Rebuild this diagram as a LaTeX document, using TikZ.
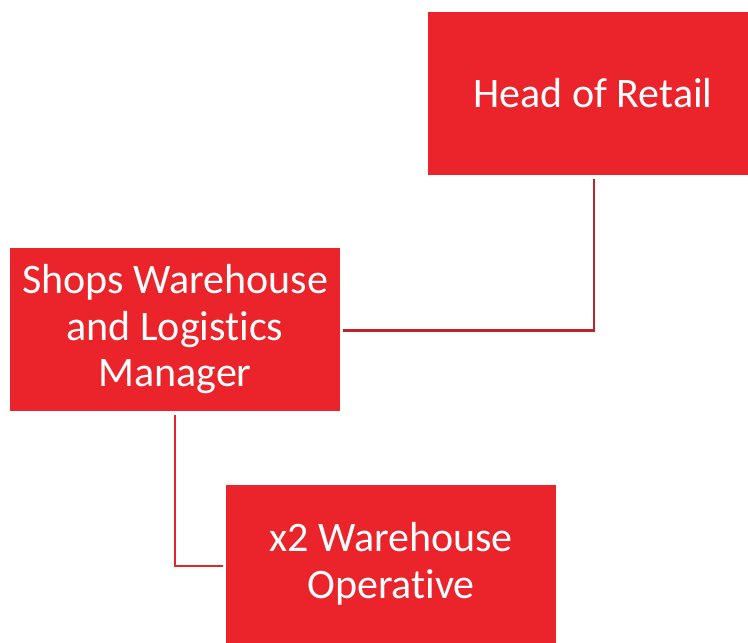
\documentclass[tikz,border=0pt]{standalone}
\usepackage{fontspec}
\setmainfont[Ligatures={NoCommon,NoContextual}]{Carlito}
\definecolor{boxred}{HTML}{EB232A}
\definecolor{lineA}{HTML}{BC242B}
\definecolor{lineB}{HTML}{E2242B}
\begin{document}
\begin{tikzpicture}[x=1pt,y=-1pt,
  rolebox/.style={fill=boxred,draw=none,text=white,align=center,inner sep=0pt,
    font=\fontsize{42}{46.5}\selectfont},
  link/.style={line width=2.6pt}]
\useasboundingbox (0,0) rectangle (748,643);
\node[rolebox,minimum width=320pt,minimum height=163pt] (head) at (588,93.5) {\hspace*{10pt}Head of Retail};
\node[rolebox,minimum width=330pt,minimum height=163pt] (mgr) at (175,329.5) {Shops Warehouse\\and Logistics\\Manager};
\node[rolebox,minimum width=330pt,minimum height=158pt] (op) at (391,564) {x2 Warehouse\\Operative};
\coordinate (c1) at (594,330.5);
\coordinate (c2) at (175,566);
\draw[link,lineA] ([xshift=6pt,yshift=-4pt]head.south) -- (c1) -- ([xshift=3pt]mgr.east |- c1);
\draw[link,lineB] ([yshift=-4pt]mgr.south) -- (c2) -- ([xshift=-3pt]op.west |- c2);
\end{tikzpicture}
\end{document}
